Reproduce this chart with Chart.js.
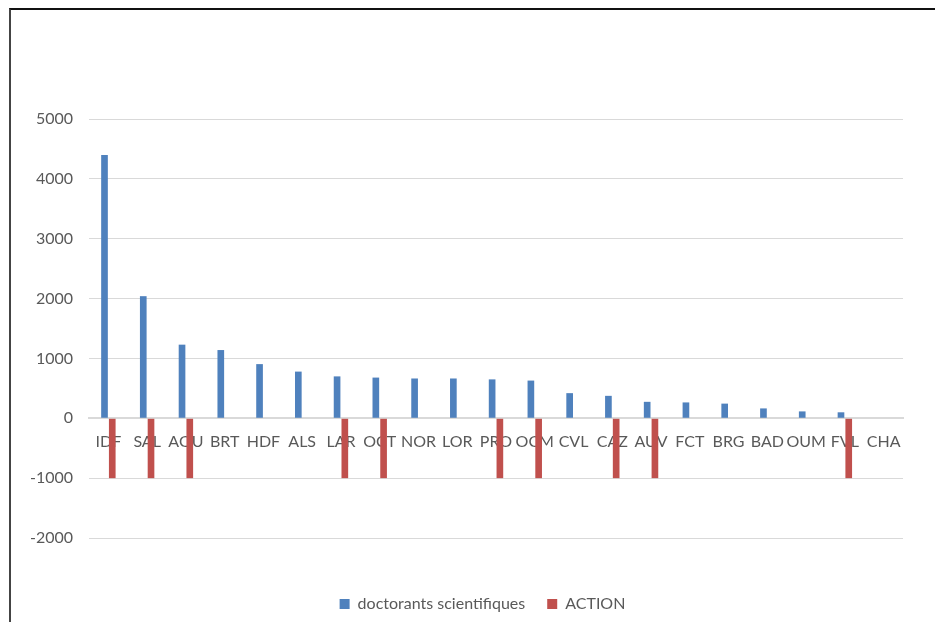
<!DOCTYPE html>
<html>
<head>
<meta charset="utf-8">
<script src="https://cdn.jsdelivr.net/npm/chart.js@4/dist/chart.umd.min.js"></script>
<style>
    body { margin: 0; background: #fff; }
    #frame {
        position: absolute; left: 9px; top: 8px; right: -10px; bottom: -10px;
        border-left: 2px solid #444; border-top: 2px solid #111;
    }
    canvas { position: absolute; left: 0; top: 0; }
</style>
</head>
<body>
<div id="frame"></div>
<canvas id="chart" width="935" height="622"></canvas>
<script>
const regions = ["IDF", "SAL", "AQU", "BRT", "HDF", "ALS", "LAR", "OCT", "NOR", "LOR", "PRO",
    "OCM", "CVL", "CAZ", "AUV", "FCT", "BRG", "BAD", "OUM", "FVL", "CHA"];
const doctorants = [4400, 2040, 1230, 1140, 905, 780, 700, 680, 665, 665, 650,
    630, 420, 375, 275, 265, 245, 165, 115, 100, 0];
const action = [-1000, -1000, -1000, null, null, null, -1000, -1000, null, null, -1000,
    -1000, null, -1000, -1000, null, null, null, null, -1000, null];

const blue = "#4f81bd";
const red = "#c0504d";
const textColor = "#595959";
const gridColor = "#d9d9d9";

// the original legend sits a bit right of the canvas centre
const legendShift = {
    id: "legendShift",
    afterLayout(chart) {
        chart.legend.left += 31;
        chart.legend.right += 31;
    }
};

new Chart(document.getElementById("chart"), {
    type: "bar",
    data: {
        labels: regions,
        datasets: [
            { label: "doctorants scientifiques", data: doctorants, backgroundColor: blue },
            { label: "ACTION", data: action, backgroundColor: red }
        ]
    },
    plugins: [legendShift],
    options: {
        responsive: false,
        animation: false,
        devicePixelRatio: 1,
        categoryPercentage: 0.4,
        barPercentage: 0.86,
        layout: { padding: { top: 119, right: 32, bottom: 0, left: 0 } },
        plugins: {
            legend: {
                position: "bottom",
                // empty title only used as spacing above the legend items
                title: { display: true, text: "", font: { size: 13, lineHeight: 1 }, padding: { top: 0, bottom: 23 } },
                labels: {
                    color: textColor,
                    font: { family: "Lato", size: 16 },
                    boxWidth: 10,
                    boxHeight: 10,
                    padding: 22
                }
            },
            tooltip: { enabled: false }
        },
        scales: {
            x: {
                position: { y: 0 },
                grid: { display: false, drawTicks: false },
                border: { color: gridColor, width: 2 },
                ticks: {
                    color: textColor,
                    font: { family: "Lato", size: 16 },
                    padding: 14,
                    maxRotation: 0,
                    autoSkip: false
                },
                afterFit: s => { s.height = 0; }
            },
            y: {
                min: -2000,
                max: 5000,
                grid: { color: gridColor, drawTicks: false },
                border: { display: false },
                ticks: {
                    stepSize: 1000,
                    color: textColor,
                    font: { family: "Lato", size: 16 },
                    padding: 16,
                    callback: v => String(v)
                },
                afterFit: s => { s.width = 89; }
            }
        }
    }
});
</script>
</body>
</html>
